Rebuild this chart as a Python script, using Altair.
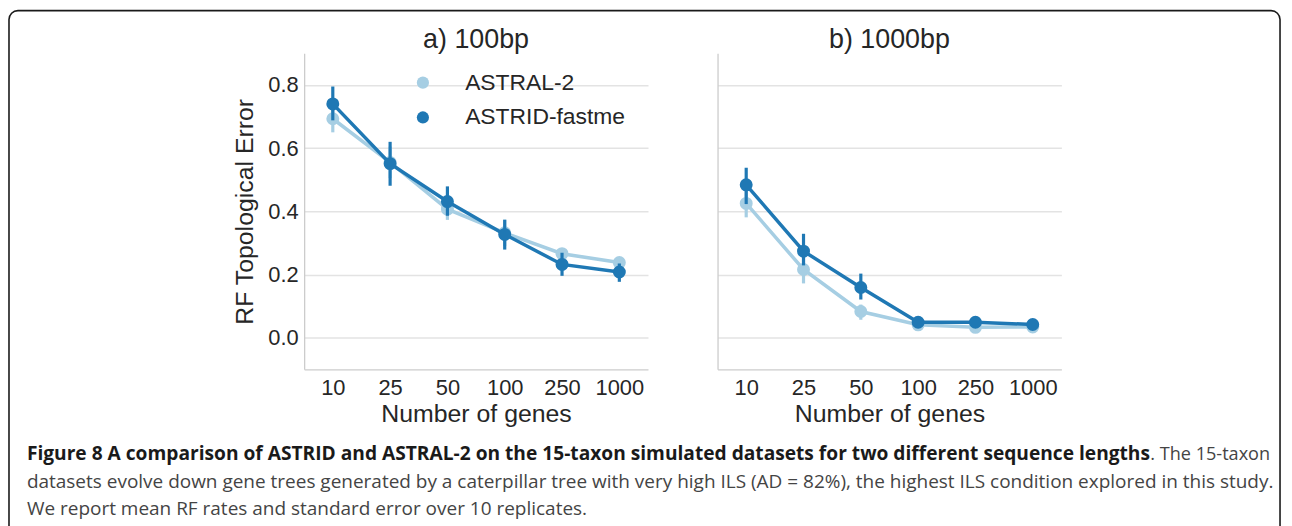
import altair as alt
import pandas as pd

# ---------------- data ----------------
genes = ["10", "25", "50", "100", "250", "1000"]
methods = ["ASTRAL-2", "ASTRID-fastme"]
colors = ["#a6cee3", "#1f78b4"]
panel_titles = ["a) 100bp", "b) 1000bp"]

# panel a) 100bp
a_astral_mean = [0.693, 0.555, 0.407, 0.332, 0.266, 0.238]
a_astral_lo = [0.650, 0.505, 0.373, 0.290, 0.250, 0.222]
a_astral_hi = [0.735, 0.605, 0.440, 0.375, 0.282, 0.254]
a_astrid_mean = [0.740, 0.551, 0.431, 0.327, 0.232, 0.208]
a_astrid_lo = [0.688, 0.481, 0.386, 0.279, 0.196, 0.177]
a_astrid_hi = [0.795, 0.620, 0.479, 0.373, 0.269, 0.235]

# panel b) 1000bp
b_astral_mean = [0.425, 0.216, 0.083, 0.041, 0.033, 0.034]
b_astral_lo = [0.381, 0.172, 0.057, 0.032, 0.024, 0.026]
b_astral_hi = [0.470, 0.260, 0.105, 0.050, 0.042, 0.042]
b_astrid_mean = [0.484, 0.274, 0.159, 0.049, 0.049, 0.042]
b_astrid_lo = [0.423, 0.229, 0.121, 0.038, 0.039, 0.032]
b_astrid_hi = [0.538, 0.329, 0.203, 0.060, 0.059, 0.052]

caption_bold = ("Figure 8 A comparison of ASTRID and ASTRAL-2 on the 15-taxon "
                "simulated datasets for two different sequence lengths")
caption_rest1 = ". The 15-taxon"
caption_line2 = ("datasets evolve down gene trees generated by a caterpillar tree with very "
                 "high ILS (AD = 82%), the highest ILS condition explored in this study.")
caption_line3 = "We report mean RF rates and standard error over 10 replicates."


def make_df(mean_a, lo_a, hi_a, mean_b, lo_b, hi_b):
    rows = []
    for m, (mean, lo, hi) in zip(methods, [(mean_a, lo_a, hi_a), (mean_b, lo_b, hi_b)]):
        for g, v, l, h in zip(genes, mean, lo, hi):
            rows.append({"genes": g, "method": m, "mean": v, "lo": l, "hi": h})
    return pd.DataFrame(rows)


df_a = make_df(a_astral_mean, a_astral_lo, a_astral_hi, a_astrid_mean, a_astrid_lo, a_astrid_hi)
df_b = make_df(b_astral_mean, b_astral_lo, b_astral_hi, b_astrid_mean, b_astrid_lo, b_astrid_hi)

# ---------------- layout ----------------
W, H = 1284, 518
Y_TOP, Y_BOT = 44, 362
XA = [298, 644]
XB = [714, 1060]
TEXT = "#262626"
FONT = "Liberation Sans"

legend = alt.Legend(orient="none", legendX=406, legendY=62, title=None,
                    labelFontSize=23, labelFont=FONT, labelColor=TEXT, labelLimit=400,
                    symbolType="circle", symbolSize=150, symbolStrokeWidth=0,
                    labelOffset=31, rowPadding=11, padding=0)


def panel(df, xrange, first):
    xaxis = alt.Axis(orient="bottom", offset=Y_BOT - H, title="Number of genes",
                     grid=False, ticks=False, domainColor="#cccccc", domainWidth=1.3,
                     labelFont=FONT, labelFontSize=22, labelColor=TEXT, labelPadding=8,
                     labelAngle=0, labelOverlap=False, titleFont=FONT, titleFontSize=25,
                     titleFontWeight="normal", titleColor=TEXT, titlePadding=3)
    if first:
        yaxis = alt.Axis(orient="left", offset=-xrange[0], title="RF Topological Error",
                         values=[0, 0.2, 0.4, 0.6, 0.8], format=".1f", grid=True,
                         gridColor="#e3e3e3", gridWidth=1.5, ticks=False,
                         domainColor="#cccccc", domainWidth=1.3, labelFont=FONT,
                         labelFontSize=22, labelColor=TEXT, labelPadding=6,
                         titleFont=FONT, titleFontSize=25, titleFontWeight="normal",
                         titleColor=TEXT, titlePadding=10)
    else:
        yaxis = alt.Axis(orient="left", offset=-xrange[0], title="", labels=False,
                         values=[0, 0.2, 0.4, 0.6, 0.8], grid=True, gridColor="#e3e3e3",
                         gridWidth=1.5, ticks=False, domainColor="#cccccc", domainWidth=1.3)
    xs = alt.Scale(type="point", domain=genes, range=xrange, padding=0.5)
    ys = alt.Scale(domain=[-0.1, 0.9], range=[Y_BOT, Y_TOP], zero=False, nice=False)
    cs = alt.Scale(domain=methods, range=colors)
    x = alt.X("genes:N", scale=xs, axis=xaxis, sort=genes)
    color = alt.Color("method:N", scale=cs, legend=legend)
    layers = []
    for m in methods:
        base = alt.Chart(df[df["method"] == m])
        layers.append(base.mark_line(strokeWidth=3.5).encode(
            x=x, y=alt.Y("mean:Q", scale=ys, axis=yaxis), color=color))
        layers.append(base.mark_rule(strokeWidth=3.2).encode(
            x=x, y=alt.Y("lo:Q", scale=ys, axis=yaxis), y2="hi:Q", color=color))
        layers.append(base.mark_point(filled=True, size=170, opacity=1).encode(
            x=x, y=alt.Y("mean:Q", scale=ys, axis=yaxis), color=color))
    return alt.layer(*layers)


one = pd.DataFrame({"k": [0]})

frame = alt.Chart(one).mark_rect(fillOpacity=0, stroke="#1a1a1a", strokeWidth=1.6,
                                 cornerRadius=9).encode(
    x=alt.value(1), x2=alt.value(1280), y=alt.value(1), y2=alt.value(H + 40))


def txt(s, x, y, size, weight="normal", align="left", color=TEXT, font=FONT):
    return alt.Chart(one).mark_text(text=s, align=align, baseline="alphabetic",
                                    fontSize=size, fontWeight=weight, font=font,
                                    color=color).encode(x=alt.value(x), y=alt.value(y))


title_a = txt(panel_titles[0], 471, 39, 27, align="center")
title_b = txt(panel_titles[1], 887, 39, 27, align="center")

CAP = "Open Sans"
cap1 = txt(caption_bold, 19, 453, 19.3, weight="bold", color="#1a1a1a", font=CAP)
cap1r = txt(caption_rest1, 1270, 453, 18.2, align="right", color="#444444", font=CAP)
cap2 = txt(caption_line2, 19, 481, 19.1, color="#444444", font=CAP)
cap3 = txt(caption_line3, 19, 509, 19.1, color="#444444", font=CAP)

chart = alt.layer(
    frame, title_a, title_b, cap1, cap1r, cap2, cap3,
    panel(df_a, XA, True), panel(df_b, XB, False)
).resolve_scale(x="independent", y="independent").properties(
    width=W, height=H, padding=0, autosize=alt.AutoSizeParams(type="none")
).configure_view(strokeWidth=0)

chart.save("out.html", embed_options={"renderer": "svg", "actions": False})
